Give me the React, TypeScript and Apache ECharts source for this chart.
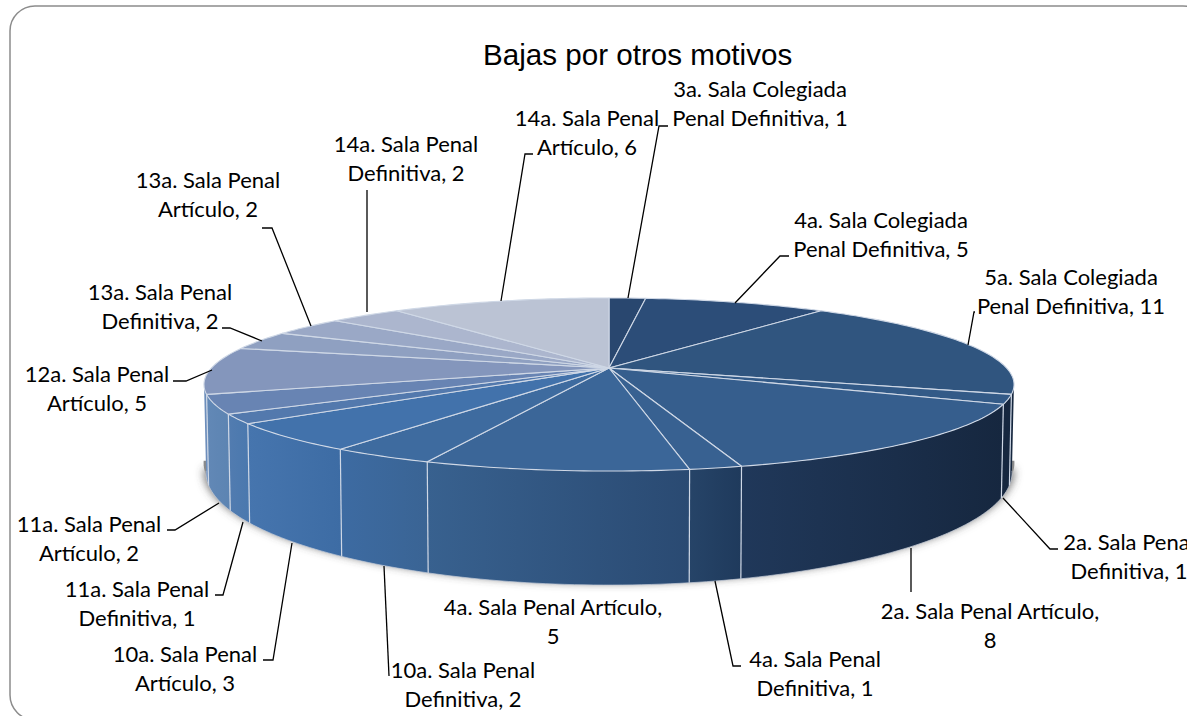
import React, { useEffect, useRef } from "react";
import * as echarts from "echarts";

const titleText = "Bajas por otros motivos";
const sliceNames = [
  "3a. Sala Colegiada Penal Definitiva", "4a. Sala Colegiada Penal Definitiva", "5a. Sala Colegiada Penal Definitiva",
  "2a. Sala Penal Definitiva", "2a. Sala Penal Artículo", "4a. Sala Penal Definitiva", "4a. Sala Penal Artículo",
  "10a. Sala Penal Definitiva", "10a. Sala Penal Artículo", "11a. Sala Penal Definitiva", "11a. Sala Penal Artículo",
  "12a. Sala Penal Artículo", "13a. Sala Penal Definitiva", "13a. Sala Penal Artículo", "14a. Sala Penal Definitiva", "14a. Sala Penal Artículo",
];
const sliceValues = [1, 5, 11, 1, 8, 1, 5, 2, 3, 1, 2, 5, 2, 2, 2, 6];
const topColors = ["#29476f", "#2c4d78", "#30557f", "#335a87", "#365e8d", "#386191", "#3b6698", "#3e6b9f", "#4272ab", "#5379ad", "#6884b3", "#8496bc", "#8fa0c1", "#9aa8c6", "#acb6ce", "#bbc3d4"];
const wallRight = ["#16273f", "#16273f", "#16273f", "#16273f", "#16273f", "#1f3a5c", "#2a4a72", "#3a6494", "#3d6ca4", "#4a78ae", "#5c84b2", "#7090bc", "#8fa0c1", "#9aa8c6", "#acb6ce", "#bbc3d4"];
const wallLeft = ["#16273f", "#16273f", "#16273f", "#16273f", "#20385a", "#264468", "#38618f", "#3d6ba2", "#4675ae", "#527cb0", "#6288b6", "#6a8cba", "#8fa0c1", "#9aa8c6", "#acb6ce", "#bbc3d4"];

const labelLines = [
  ["3a. Sala Colegiada", "Penal Definitiva, 1"], ["4a. Sala Colegiada", "Penal Definitiva, 5"], ["5a. Sala Colegiada", "Penal Definitiva, 11"],
  ["2a. Sala Penal", "Definitiva, 1"], ["2a. Sala Penal Artículo,", "8"], ["4a. Sala Penal", "Definitiva, 1"], ["4a. Sala Penal Artículo,", "5"],
  ["10a. Sala Penal", "Definitiva, 2"], ["10a. Sala Penal", "Artículo, 3"], ["11a. Sala Penal", "Definitiva, 1"], ["11a. Sala Penal", "Artículo, 2"],
  ["12a. Sala Penal", "Artículo, 5"], ["13a. Sala Penal", "Definitiva, 2"], ["13a. Sala Penal", "Artículo, 2"], ["14a. Sala Penal", "Definitiva, 2"], ["14a. Sala Penal", "Artículo, 6"],
];
const labelCentres = [
  [760, 103], [881, 234], [1071, 291], [1129, 556], [990, 625], [815, 673], [553, 621],
  [463, 684], [185, 668], [137, 603], [89, 538], [97, 388], [160, 306], [208, 194], [406, 158], [587, 132],
];
const leaders = [
  [[628, 298], [659, 126], [668, 126]], [[735, 303], [780, 256], [789, 256]], [[968, 345], [974, 312], [975, 312]],
  [[1003, 498], [1050, 549], [1058, 549]], [[911, 548], [911, 592]], [[715, 581], [733, 666], [741, 666]], null,
  [[384, 566], [389, 676]], [[292, 543], [273, 660], [263, 660]], [[243, 522], [223, 595], [215, 595]], [[219, 503], [175, 530], [167, 530]],
  [[212, 370], [186, 381], [173, 381]], [[262, 341], [230, 328], [222, 328]], [[311, 326], [272, 228], [262, 228]], [[367, 312], [367, 190]], [[501, 301], [525, 154], [533, 154]],
];

const CX = 609, CY = 368, RX = 397.6, A = 83.4, K = 0.1908, H = 83.8, KW = 0.265;
const total = sliceValues.reduce((a, b) => a + b, 0);
const FONT = "Lato, 'Open Sans', sans-serif";

function top(t: number) { const d = 1 + K * Math.cos(t); return [CX + RX * Math.sin(t) / d, CY - A * Math.cos(t) / d]; }
function bottom(t: number) { const p = top(t); return [CX + (p[0] - CX) * 0.995, p[1] + H / (1 + KW * Math.cos(t))]; }
function sample(a: number, b: number) { const n = Math.max(2, Math.ceil(Math.abs(b - a) / 0.02)); const r: number[] = []; for (let i = 0; i <= n; i++) r.push(a + ((b - a) * i) / n); return r; }
const VIS_A = (100 * Math.PI) / 180, VIS_B = (260 * Math.PI) / 180;
const EDGE = "#cfd8e6";

function renderItem(params: any, api: any) {
  const i = params.dataIndex;
  let before = 0;
  for (let j = 0; j < i; j++) before += sliceValues[j];
  const val = api.value(0);
  const a0 = (before / total) * 2 * Math.PI, a1 = ((before + val) / total) * 2 * Math.PI;
  const children: any[] = [];
  const wa = Math.max(a0, VIS_A), wb = Math.min(a1, VIS_B);
  if (wb > wa) {
    const ts = sample(wa, wb);
    const pts = [...ts.map(top), ...ts.slice().reverse().map(bottom)];
    children.push({
      type: "polygon", z2: 1,
      shape: { points: pts },
      style: {
        fill: new echarts.graphic.LinearGradient(0, 0, 1, 0, [{ offset: 0, color: wallLeft[i] }, { offset: 1, color: wallRight[i] }]),
        lineWidth: 0,
      },
    });
    if (a0 >= VIS_A) children.push({ type: "polyline", z2: 2, shape: { points: [top(wa), bottom(wa)] }, style: { stroke: EDGE, lineWidth: 1.2, fill: "none" } });
    children.push({ type: "polyline", z2: 2, shape: { points: ts.map(bottom) }, style: { stroke: "#c4ccd8", lineWidth: 1, fill: "none", opacity: 0.7 } });
  }
  const rim = sample(a0, a1).map(top);
  children.push({
    type: "polygon", z2: 3,
    shape: { points: [[CX, CY], ...rim] },
    style: { fill: topColors[i], stroke: EDGE, lineWidth: 1.1, lineJoin: "round" },
  });
  return { type: "group", children };
}

function renderLabels(params: any) {
  const i = params.dataIndex;
  const [x, y] = labelCentres[i];
  const children: any[] = [];
  if (leaders[i]) children.push({ type: "polyline", z2: 20, shape: { points: leaders[i] }, style: { stroke: "#000", lineWidth: 1.3, fill: "none" } });
  children.push({
    type: "text", z2: 21, x, y,
    style: { text: labelLines[i].join("\n"), fill: "#000", font: `22px ${FONT}`, lineHeight: 29.5, align: "center", verticalAlign: "middle" },
  });
  return { type: "group", children };
}

export default function App() {
  const ref = useRef<HTMLDivElement>(null);
  useEffect(() => {
    const chart = echarts.init(ref.current!, null, { renderer: "svg" });
    const ts = sample(VIS_A, VIS_B);
    chart.setOption({
      animation: false,
      backgroundColor: "#fff",
      title: { text: titleText, left: 478, top: 34, textStyle: { fontFamily: "'Liberation Sans', Arial, sans-serif", fontSize: 29.6, fontWeight: "normal", color: "#000" } },
      graphic: [
        { type: "rect", z: -10, shape: { x: 10, y: 6, width: 1198, height: 714, r: 25 }, style: { fill: "#fff", stroke: "#8c8c8c", lineWidth: 1.5 } },
        {
          type: "polygon", z: -5,
          shape: { points: ts.map((t) => { const p = bottom(t); return [CX + (p[0] - CX) * 1.006, p[1] - 10]; }) },
          style: { fill: "#8a8a8a", shadowBlur: 9, shadowColor: "rgba(70,70,70,0.75)", shadowOffsetY: 8 },
        },
      ],
      series: [
        {
          type: "custom", coordinateSystem: "none", clip: false, z: 5,
          data: sliceValues.map((v, i) => ({ value: [v], name: sliceNames[i] })),
          renderItem,
        },
        {
          type: "custom", coordinateSystem: "none", clip: false, z: 6, silent: true,
          data: sliceValues.map((v, i) => ({ value: [v], name: sliceNames[i] })),
          renderItem: renderLabels,
        },
      ],
    });
    return () => chart.dispose();
  }, []);
  return <div ref={ref} style={{ position: "fixed", left: 0, top: 0, width: 1187, height: 716, overflow: "hidden" }} />;
}
